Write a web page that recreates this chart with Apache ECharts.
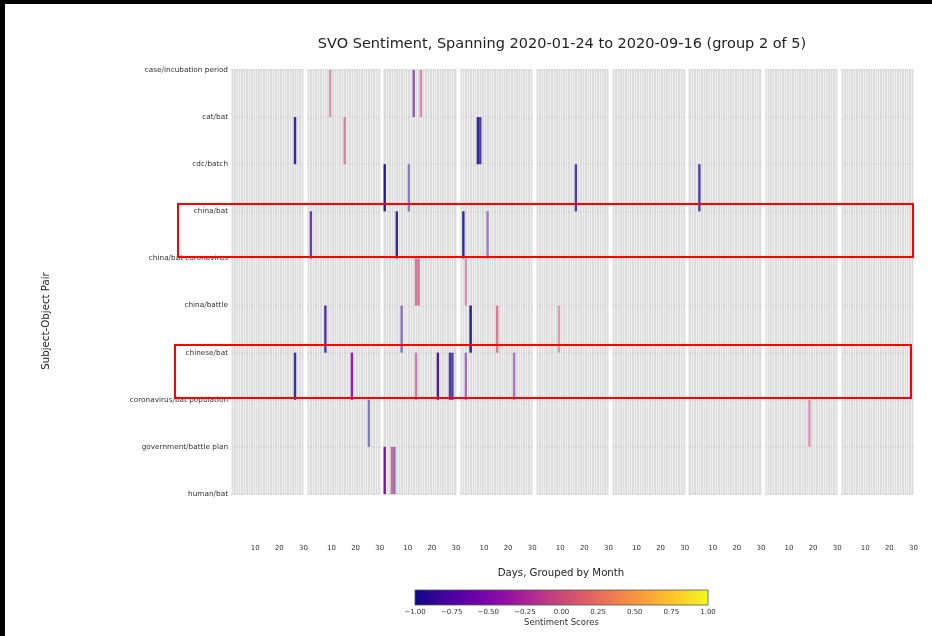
<!DOCTYPE html>
<html>
<head>
<meta charset="utf-8">
<script src="https://cdn.jsdelivr.net/npm/echarts@6/dist/echarts.min.js"></script>
<style>
  html, body { margin: 0; padding: 0; background: #fff; }
  #chart { width: 932px; height: 636px; }
</style>
</head>
<body>
<div id="chart"></div>
<script>
const rowLabels = [
  'case/incubation period', 'cat/bat', 'cdc/batch', 'china/bat', 'china/bat coronavirus',
  'china/battle', 'chinese/bat', 'coronavirus/bat population', 'government/battle plan', 'human/bat'
];
const months = ['2020-01', '2020-02', '2020-03', '2020-04', '2020-05', '2020-06', '2020-07', '2020-08', '2020-09'];
const dayTicks = [10, 20, 30];
const scoreRange = [-1, 1];

// [month index, day of month, row index, sentiment score, weight]
const events = [
  [0, 27, 1, -0.95, 0.85], [0, 27, 6, -1.00, 0.80],
  [1, 10, 0, 0.00, 0.50], [1, 2, 3, -0.80, 0.75], [1, 8, 5, -0.90, 0.80],
  [1, 16, 1, 0.00, 0.60], [1, 19, 6, -0.45, 0.90], [1, 26, 7, -1.00, 0.45],
  [2, 13, 0, -0.70, 0.60], [2, 16, 0, -0.05, 0.55], [2, 1, 2, -1.00, 0.90],
  [2, 11, 2, -0.95, 0.45], [2, 6, 3, -0.95, 0.85], [2, 14, 4, 0.00, 0.70],
  [2, 15, 4, 0.00, 0.70], [2, 8, 5, -0.90, 0.50], [2, 14, 6, -0.10, 0.60],
  [2, 23, 6, -0.80, 0.90], [2, 28, 6, -0.95, 0.75], [2, 29, 6, -0.95, 0.75],
  [2, 1, 8, -0.60, 0.90], [2, 4, 8, -0.05, 0.75], [2, 5, 8, -0.95, 0.50],
  [3, 8, 1, -1.00, 0.85], [3, 9, 1, -0.95, 0.75], [3, 2, 3, -1.00, 0.85],
  [3, 12, 3, -0.75, 0.45], [3, 3, 4, -0.05, 0.45], [3, 5, 5, -1.00, 0.90],
  [3, 16, 5, 0.05, 0.70], [3, 3, 6, -0.60, 0.50], [3, 23, 6, -0.55, 0.50],
  [4, 17, 2, -0.95, 0.75], [4, 10, 5, 0.00, 0.45],
  [6, 5, 2, -0.95, 0.75],
  [7, 19, 7, -0.05, 0.50]
];

const plasma = ['#0d0887', '#41049d', '#6a00a8', '#8f0da4', '#b12a90', '#cc4778',
                '#e16462', '#f2844b', '#fca636', '#fcce25', '#f0f921'];

const FONT = 'DejaVu Sans';
const chart = echarts.init(document.getElementById('chart'));

const grids = [], xAxes = [], yAxes = [], series = [];

months.forEach((m, i) => {
  grids.push({
    left: 231 + i * 76.25, top: 70, width: 72.5, height: 424,
    show: true, backgroundColor: '#dddddd', borderWidth: 0
  });
  xAxes.push({
    gridIndex: i, type: 'value', min: 0, max: 30, interval: 10,
    axisLine: { show: false }, axisTick: { show: false },
    axisLabel: {
      margin: 51, fontSize: 7, color: '#333', fontFamily: FONT,
      formatter: v => dayTicks.includes(v) ? String(v) : ''
    },
    splitLine: { show: true, lineStyle: { color: '#efefef', width: 1 } },
    minorTick: { show: false, splitNumber: 10 },
    minorSplitLine: { show: true, lineStyle: { color: '#efefef', width: 1 } }
  });
  yAxes.push({
    gridIndex: i, type: 'value', min: 0, max: rowLabels.length - 1, interval: 1, inverse: true,
    axisLine: { show: false }, axisTick: { show: false },
    axisLabel: {
      show: i === 0, fontSize: 7.3, color: '#333', margin: 3, fontFamily: FONT,
      formatter: v => rowLabels[v]
    },
    splitLine: { show: true, lineStyle: { color: '#d2d2d2', width: 1.5 } }
  });
  series.push({
    type: 'custom', xAxisIndex: i, yAxisIndex: i, clip: true,
    data: events.filter(e => e[0] === i).map(e => [e[1], e[2], e[3], e[4]]),
    renderItem: (params, api) => {
      const p0 = api.coord([api.value(0) - 1, api.value(1)]);
      const p1 = api.coord([api.value(0), api.value(1) + 1]);
      return {
        type: 'rect',
        shape: { x: p0[0], y: p0[1], width: p1[0] - p0[0], height: p1[1] - p0[1] },
        style: { fill: api.visual('color'), opacity: api.value(3) }
      };
    }
  });
});

// colorbar
const cb = months.length;
grids.push({ left: 415, top: 590, width: 293, height: 15 });
xAxes.push({
  gridIndex: cb, type: 'value', min: scoreRange[0], max: scoreRange[1], interval: 0.25,
  axisLine: { show: false }, axisTick: { show: false }, splitLine: { show: false },
  axisLabel: {
    margin: 4, fontSize: 7, color: '#333', fontFamily: FONT,
    formatter: v => (v < 0 ? '\u2212' : '') + Math.abs(v).toFixed(2)
  },
  name: 'Sentiment Scores', nameLocation: 'middle', nameGap: 13,
  nameTextStyle: { fontSize: 8.5, color: '#333', fontFamily: FONT }
});
yAxes.push({ gridIndex: cb, type: 'value', min: 0, max: 1, show: false });
series.push({
  type: 'custom', xAxisIndex: cb, yAxisIndex: cb,
  data: [scoreRange],
  renderItem: (params, api) => {
    const p0 = api.coord([api.value(0), 1]);
    const p1 = api.coord([api.value(1), 0]);
    return {
      type: 'rect',
      shape: { x: p0[0], y: p0[1], width: p1[0] - p0[0], height: p1[1] - p0[1] },
      style: {
        fill: new echarts.graphic.LinearGradient(0, 0, 1, 0,
          plasma.map((c, k) => ({ offset: k / (plasma.length - 1), color: c }))),
        stroke: '#555', lineWidth: 0.8
      }
    };
  }
});

const option = {
  backgroundColor: '#fff',
  animation: false,
  grid: grids,
  xAxis: xAxes,
  yAxis: yAxes,
  visualMap: {
    show: false, type: 'continuous', min: scoreRange[0], max: scoreRange[1], dimension: 2,
    seriesIndex: months.map((m, i) => i),
    inRange: { color: plasma }
  },
  series: series,
  graphic: [
    { type: 'rect', shape: { x: 0, y: 0, width: 932, height: 4 }, style: { fill: '#000' } },
    { type: 'rect', shape: { x: 0, y: 0, width: 5, height: 636 }, style: { fill: '#000' } },
    { type: 'text', x: 562, y: 44, style: { text: 'SVO Sentiment, Spanning 2020-01-24 to 2020-09-16 (group 2 of 5)',
      font: '14.5px "DejaVu Sans"', fill: '#222', align: 'center', verticalAlign: 'middle' } },
    { type: 'text', x: 561, y: 573, style: { text: 'Days, Grouped by Month',
      font: '10.2px "DejaVu Sans"', fill: '#222', align: 'center', verticalAlign: 'middle' } },
    { type: 'text', x: 46, y: 321, rotation: Math.PI / 2, style: { text: 'Subject-Object Pair',
      font: '10.2px "DejaVu Sans"', fill: '#222', align: 'center', verticalAlign: 'middle' } },
    { type: 'rect', z: 100, shape: { x: 178, y: 204, width: 735, height: 53 },
      style: { fill: 'none', stroke: '#ff0000', lineWidth: 2 } },
    { type: 'rect', z: 100, shape: { x: 175, y: 345, width: 736, height: 53 },
      style: { fill: 'none', stroke: '#ff0000', lineWidth: 2 } }
  ]
};

chart.setOption(option);
</script>
</body>
</html>
